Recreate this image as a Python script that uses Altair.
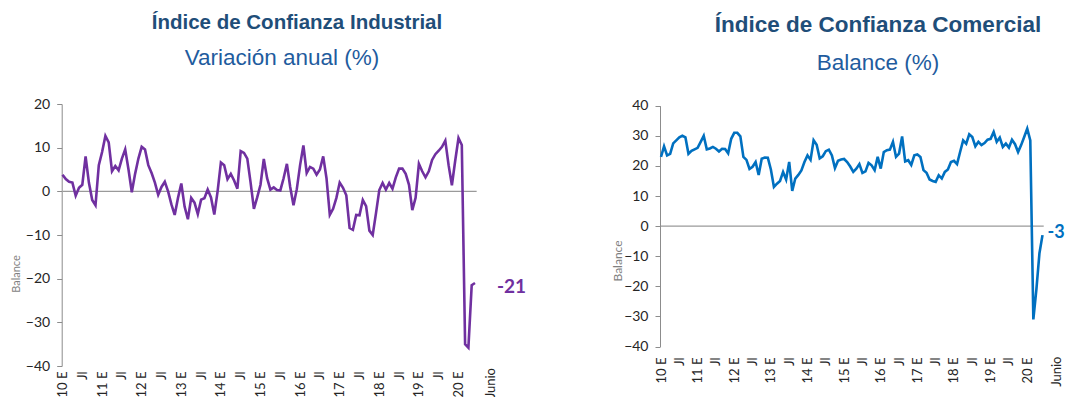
import json
import pandas as pd
import altair as alt

# ---------------- data ----------------
# Índice de Confianza Industrial, monthly Jan-2010 .. Jun-2020
industrial = [
    3.8, 2.8, 2.2, 2.0, -1.0, 0.8, 1.5, 8.0, 2.0, -2.0, -3.2, 6.0,        # 2010
    9.0, 12.7, 11.2, 4.6, 5.8, 4.8, 7.5, 9.6, 5.0, -0.2, 4.0, 7.5,        # 2011
    10.2, 9.6, 6.0, 4.2, 2.0, -0.8, 1.0, 2.2, 0.0, -3.0, -5.4, -1.5,     # 2012
    1.8, -3.5, -6.4, -1.5, -2.6, -5.2, -1.9, -1.6, 0.4, -1.4, -5.3, 0.0, # 2013
    6.6, 6.0, 2.8, 4.0, 2.5, 0.6, 9.2, 8.8, 7.5, 2.0, -4.0, -1.4,        # 2014
    1.5, 7.4, 3.0, 0.4, 0.9, 0.3, 0.2, 3.0, 6.3, 1.0, -3.2, 0.5,         # 2015
    6.0, 10.5, 4.2, 5.6, 5.2, 3.8, 5.0, 8.0, 3.0, -5.4, -4.0, -1.5,      # 2016
    2.0, 0.8, -0.9, -8.4, -8.8, -5.4, -5.5, -2.0, -3.4, -9.0, -10.0, -5.0,  # 2017
    0.3, 1.9, 0.4, 1.9, 0.6, 3.2, 5.2, 5.2, 4.0, 1.5, -4.3, -1.5,        # 2018
    6.3, 4.6, 3.2, 4.6, 7.2, 8.5, 9.3, 10.2, 11.6, 6.0, 1.4, 7.0,        # 2019
    12.2, 10.6, -35.0, -35.8, -21.5, -21.0,                              # 2020
]

# Índice de Confianza Comercial, monthly Jan-2010 .. Jun-2020
comercial = [
    23.0, 26.5, 23.5, 24.0, 27.5, 28.5, 29.5, 30.0, 29.5, 24.0, 25.0, 25.5,   # 2010
    26.0, 28.0, 30.0, 25.5, 25.8, 26.3, 25.7, 24.8, 25.7, 25.6, 24.2, 29.0,   # 2011
    31.0, 31.0, 29.8, 23.0, 22.0, 19.0, 19.7, 21.3, 17.0, 22.4, 22.8, 22.7,   # 2012
    18.8, 13.0, 14.1, 15.0, 18.0, 15.5, 21.3, 11.7, 15.8, 17.0, 18.5, 21.3,   # 2013
    23.5, 22.0, 28.5, 27.0, 22.5, 23.2, 24.9, 25.4, 23.5, 19.3, 21.7, 22.1,   # 2014
    22.3, 21.3, 19.8, 18.0, 19.1, 20.6, 17.7, 18.2, 21.0, 20.2, 18.6, 23.0,   # 2015
    19.1, 24.6, 25.2, 25.4, 28.0, 23.0, 24.1, 29.8, 21.5, 21.9, 20.3, 23.5,   # 2016
    23.8, 23.0, 18.6, 17.7, 15.5, 15.0, 14.7, 16.9, 15.8, 18.0, 18.8, 21.3,   # 2017
    21.7, 20.6, 24.6, 28.5, 27.4, 30.5, 29.6, 26.5, 28.0, 26.9, 27.6, 28.7,   # 2018
    29.0, 31.3, 28.0, 29.4, 26.3, 27.4, 26.1, 28.7, 27.2, 24.6, 26.9, 29.6,   # 2019
    32.4, 28.5, -31.0, -21.0, -9.0, -3.0,                                     # 2020
]

tick_pos = list(range(0, 121, 6))
tick_labels = ["10 E", "Jl", "11 E", "Jl", "12 E", "Jl", "13 E", "Jl", "14 E", "Jl",
               "15 E", "Jl", "16 E", "Jl", "17 E", "Jl", "18 E", "Jl", "19 E", "Jl", "20 E"]
last_tick_text = "Junio"
last_tick_pos = 129.8
y_ticks_ind = [-40, -30, -20, -10, 0, 10, 20]
y_ticks_com = [-40, -30, -20, -10, 0, 10, 20, 30, 40]

title_ind = "Índice de Confianza Industrial"
subtitle_ind = "Variación anual (%)"
title_com = "Índice de Confianza Comercial"
subtitle_com = "Balance (%)"
y_title = "Balance"

# ---------------- styling ----------------
W, H = 1060, 389
PURPLE = "#7030A0"
BLUE = "#0070C0"
TITLE_C = "#1F4E79"
SUB_C = "#1F5C9E"
AXIS_C = "#8C8C8C"
LBL_C = "#262626"
LFONT = "Lato"
TFONT = "Liberation Sans"

df = pd.DataFrame({"m": list(range(len(industrial))), "ind": industrial, "com": comercial})
one = pd.DataFrame({"k": [0]})

label_expr = "%s[round(datum.value / 6)]" % json.dumps(tick_labels)


def x_axis(offset, pad):
    return alt.Axis(values=tick_pos, labelExpr=label_expr, labelAngle=270,
                    labelAlign="right", labelBaseline="middle", orient="bottom",
                    offset=offset, domain=False, ticks=False, tickSize=0, grid=False,
                    labelPadding=pad, labelFont=LFONT, labelFontSize=13,
                    labelColor=LBL_C, labelOverlap=False, labelFlush=False, title=None)


def y_axis(offset, vals):
    return alt.Axis(values=vals, orient="left", offset=offset, domain=True,
                    domainColor=AXIS_C, ticks=True, tickColor=AXIS_C, tickSize=5,
                    grid=False, labelPadding=7, labelFont=LFONT, labelFontSize=14,
                    labelColor=LBL_C, labelOverlap=False, labelFlush=False, title=None)


def panel(field, values, color, xr, yr, ydom, xoff, yoff, lpad, yvals, x2zero,
          end_dx, end_dy, junio_y, end_size):
    xs = alt.Scale(domain=[0, 125], range=xr, nice=False, zero=False)
    ys = alt.Scale(domain=ydom, range=yr, nice=False, zero=False)
    zero = alt.Chart(one).mark_rule(color="#9A9A9A", strokeWidth=1.2).encode(
        x=alt.X(datum=0, scale=xs), x2=alt.datum(x2zero), y=alt.Y(datum=0, scale=ys))
    line = alt.Chart(df).mark_line(color=color, strokeWidth=2.6).encode(
        x=alt.X("m:Q", scale=xs, axis=x_axis(xoff, lpad)),
        y=alt.Y(f"{field}:Q", scale=ys, axis=y_axis(yoff, yvals)))
    end = alt.Chart(one).mark_text(align="left", baseline="middle", dx=end_dx, dy=end_dy,
                                   font=LFONT, fontSize=end_size, fontWeight="bold",
                                   color=color).encode(
        x=alt.datum(125), y=alt.datum(values[-1]), text=alt.value(f"{values[-1]:.0f}"))
    jun = alt.Chart(one).mark_text(angle=270, align="right", baseline="middle",
                                   font=LFONT, fontSize=13, color=LBL_C).encode(
        x=alt.datum(last_tick_pos), y=alt.value(junio_y), text=alt.value(last_tick_text))
    return alt.layer(zero, line, end, jun)


left = panel("ind", industrial, PURPLE, [54.5, 467], [358, 96], [-40, 20],
             -31, -53.7, 5, y_ticks_ind, 125.5, 22, 4, 360, 19)
right = panel("com", comercial, BLUE, [653, 1034.5], [338.5, 97.7], [-40, 40],
              -50.5, -652, 10.5, y_ticks_com, 125.4, 5, -2, 348.5, 18)


def txt(s, x, y, size, color, weight="normal", font=TFONT, angle=0):
    return alt.Chart(one).mark_text(align="center", baseline="middle", font=font,
                                    fontSize=size, fontWeight=weight, color=color,
                                    angle=angle).encode(
        x=alt.value(x), y=alt.value(y), text=alt.value(s))


texts = [
    txt(title_ind, 289, 15, 20.5, TITLE_C, "bold"),
    txt(subtitle_ind, 274, 50, 22.5, SUB_C),
    txt(title_com, 870, 17, 22.5, TITLE_C, "bold"),
    txt(subtitle_com, 870, 55, 22.5, SUB_C),
    txt(y_title, 9, 266, 11, "#7F7F7F", font=LFONT, angle=270),
    txt(y_title, 610, 253, 12, "#7F7F7F", font=LFONT, angle=270),
]

chart = alt.layer(left, right, *texts).resolve_scale(
    x="independent", y="independent"
).properties(
    width=W, height=H, padding=0, autosize=alt.AutoSizeParams(type="none")
).configure_view(stroke=None)

chart.save("out.html", embed_options={"renderer": "svg", "actions": False})
